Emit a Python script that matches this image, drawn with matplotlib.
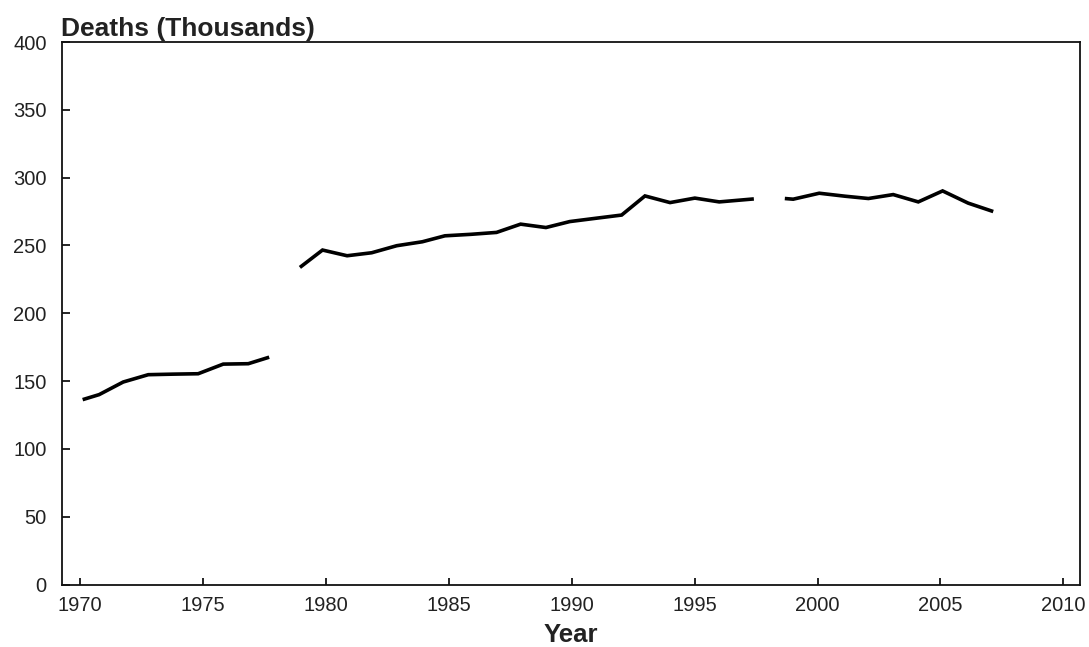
import numpy as np
import matplotlib.pyplot as plt

# years (segments split by NaN gaps)
years = [1970.10, 1970.77, 1971.75, 1972.77, 1973.78, 1974.80, 1975.82, 1976.84, 1977.69,
         np.nan,
         1978.94, 1979.86, 1980.86, 1981.86, 1982.88, 1983.92, 1984.84, 1985.90, 1986.94,
         1987.92, 1988.95, 1989.92, 1991.01, 1992.03, 1992.98, 1994.00, 1995.01, 1996.00,
         1997.41,
         np.nan,
         1998.67, 1999.01, 2000.07, 2001.12, 2002.07, 2003.08, 2004.10, 2005.09, 2006.13,
         2007.15]
deaths = [136.3, 140.0, 149.3, 154.7, 155.1, 155.4, 162.5, 162.8, 167.6,
          np.nan,
          233.8, 246.6, 242.4, 244.6, 249.8, 252.7, 257.1, 258.2, 259.6,
          265.7, 263.2, 267.6, 270.1, 272.4, 286.5, 281.6, 284.9, 282.1,
          284.3,
          np.nan,
          284.6, 284.1, 288.5, 286.3, 284.6, 287.5, 282.1, 290.2, 281.2,
          275.0]

xticks = [1970, 1975, 1980, 1985, 1990, 1995, 2000, 2005, 2010]
yticks = [0, 50, 100, 150, 200, 250, 300, 350, 400]

plt.rcParams['font.family'] = ['Liberation Sans', 'DejaVu Sans']

fig = plt.figure(figsize=(10.89, 6.47), dpi=100)
ax = fig.add_axes([62/1089, 1 - 584.5/647, (1079.5 - 62)/1089, (584.5 - 42)/647])

ax.plot(years, deaths, color='black', linewidth=2.6,
        solid_capstyle='butt', solid_joinstyle='miter')

ax.set_xlim(1969.26, 2010.66)
ax.set_ylim(0, 400)
ax.set_xticks(xticks)
ax.set_yticks(yticks)

for s in ax.spines.values():
    s.set_linewidth(1.3)
    s.set_color('#111111')

ax.tick_params(axis='x', direction='in', length=5, width=1.2, pad=8,
               labelsize=14.5, labelcolor='#222222')
ax.tick_params(axis='y', direction='in', length=6, width=1.2, pad=11,
               labelsize=14.5, labelcolor='#222222')

ax.set_xlabel('Year', fontsize=18.5, fontweight='bold', color='#222222', labelpad=6)
fig.text(61/1089, 1 - 36/647, 'Deaths (Thousands)', fontsize=19, fontweight='bold',
         color='#222222', ha='left', va='baseline')

fig.savefig('out.png', dpi=100)
